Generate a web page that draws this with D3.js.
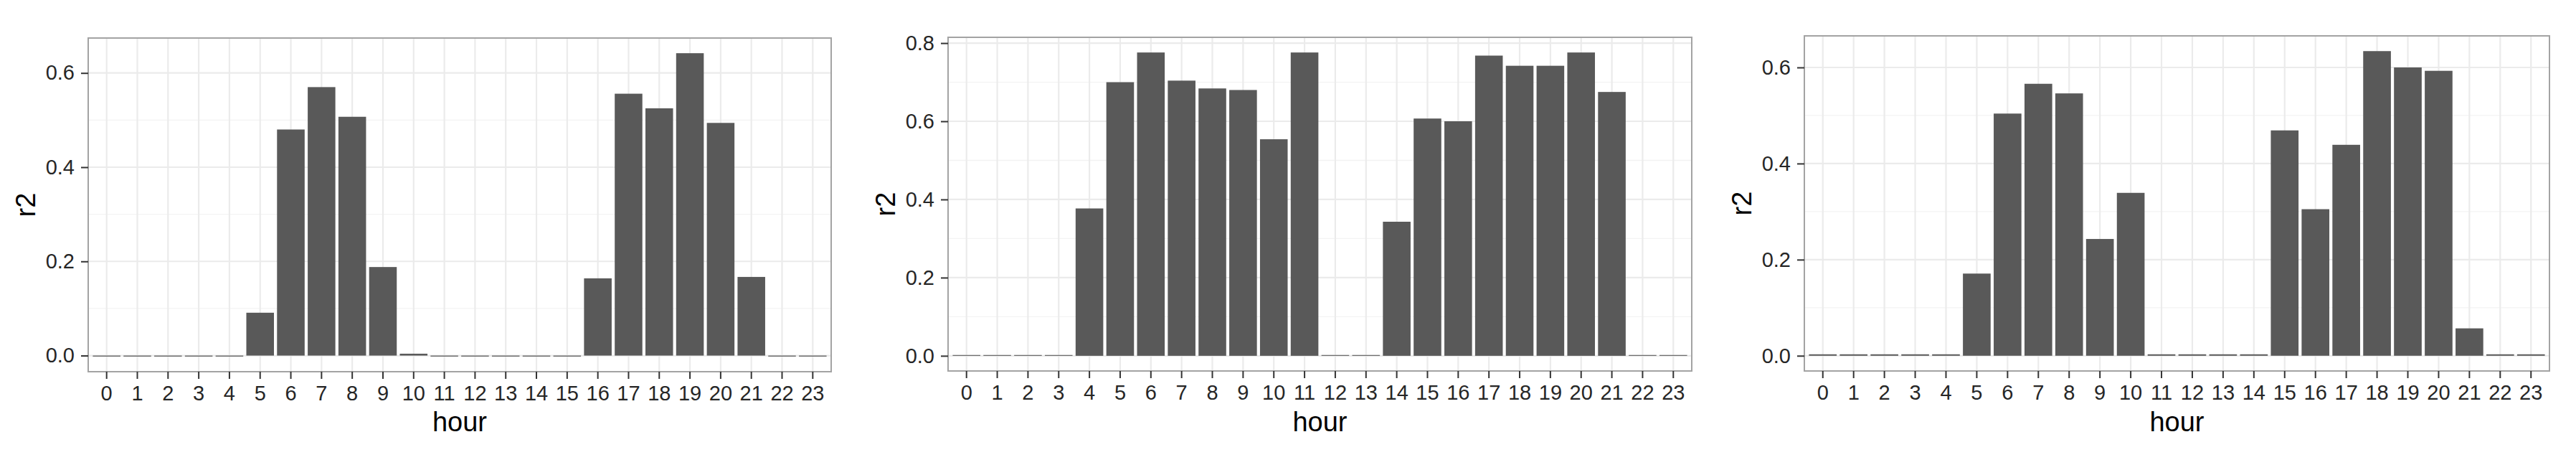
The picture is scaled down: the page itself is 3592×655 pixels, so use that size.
<!DOCTYPE html>
<html>
<head>
<meta charset="utf-8">
<style>
  body { margin: 0; background: #fff; }
  svg { display: block; }
  text { font-family: "Liberation Sans", Arial, Helvetica, sans-serif; }
</style>
</head>
<body>
<svg width="3592" height="655"></svg>
<script src="https://d3js.org/d3.v7.min.js"></script>
<script>

// x categories: hour of the day
var hours = ["0", "1", "2", "3", "4", "5", "6", "7", "8", "9", "10", "11",
             "12", "13", "14", "15", "16", "17", "18", "19", "20", "21", "22", "23"];

// r2 per hour, one array per panel
var r2Left = [-0.002, -0.002, -0.002, -0.002, -0.002, 0.091, 0.480, 0.570, 0.507, 0.188, 0.004, -0.002,
              -0.002, -0.002, -0.002, -0.002, 0.164, 0.556, 0.525, 0.642, 0.494, 0.167, -0.002, -0.002];

var r2Middle = [0.002, 0.002, 0.002, 0.002, 0.377, 0.700, 0.776, 0.704, 0.684, 0.680, 0.554, 0.776,
                0.002, 0.002, 0.343, 0.607, 0.600, 0.768, 0.742, 0.742, 0.776, 0.675, 0.002, 0.002];

var r2Right = [0.003, 0.003, 0.003, 0.003, 0.003, 0.171, 0.504, 0.566, 0.546, 0.243, 0.339, 0.003,
               0.003, 0.003, 0.003, 0.469, 0.305, 0.439, 0.634, 0.600, 0.593, 0.057, 0.003, 0.003];

// y tick labels of each panel
var yTicksLeft = [0, 0.2, 0.4, 0.6];
var yTicksMiddle = [0, 0.2, 0.4, 0.6, 0.8];
var yTicksRight = [0, 0.2, 0.4, 0.6];

var svg = d3.select("svg");

// where each panel box sits on the page
var panels = [
    {values: r2Left,   ticks: yTicksLeft,   left: 123,  right: 1159, top: 53, bottom: 518},
    {values: r2Middle, ticks: yTicksMiddle, left: 1322, right: 2359, top: 52, bottom: 517},
    {values: r2Right,  ticks: yTicksRight,  left: 2516, right: 3555, top: 50, bottom: 517}
];

panels.forEach(drawPanel);

function drawPanel(p) {
    // ggplot style discrete scale: 0.6 of a step of space at each end, bars 0.9 wide
    var x = d3.scaleBand()
        .domain(hours)
        .range([p.left, p.right])
        .paddingInner(0.1)
        .paddingOuter(0.15);

    // ggplot style continuous expansion of 5% on each side
    var lo = Math.min(0, d3.min(p.values)),
        hi = d3.max(p.values),
        pad = (hi - lo) * 0.05;
    var y = d3.scaleLinear()
        .domain([lo - pad, hi + pad])
        .range([p.bottom, p.top]);

    var g = svg.append("g");

    // minor grid lines half way between the major ones
    var step = p.ticks[1] - p.ticks[0];
    var minor = p.ticks.map(function(t) { return t + step / 2; })
        .filter(function(v) { return v >= y.domain()[0] && v <= y.domain()[1]; });

    g.selectAll(".minor")
        .data(minor)
      .enter().append("line")
        .attr("x1", p.left).attr("x2", p.right)
        .attr("y1", function(d) { return y(d); })
        .attr("y2", function(d) { return y(d); })
        .attr("stroke", "#f3f3f3")
        .attr("stroke-width", 1.3);

    g.selectAll(".hgrid")
        .data(p.ticks)
      .enter().append("line")
        .attr("x1", p.left).attr("x2", p.right)
        .attr("y1", function(d) { return y(d); })
        .attr("y2", function(d) { return y(d); })
        .attr("stroke", "#ebebeb")
        .attr("stroke-width", 2.2);

    g.selectAll(".vgrid")
        .data(hours)
      .enter().append("line")
        .attr("x1", function(d) { return x(d) + x.bandwidth() / 2; })
        .attr("x2", function(d) { return x(d) + x.bandwidth() / 2; })
        .attr("y1", p.top).attr("y2", p.bottom)
        .attr("stroke", "#ebebeb")
        .attr("stroke-width", 2.2);

    // bars (near-zero ones end up as thin grey strokes, like the original)
    g.selectAll(".bar")
        .data(p.values)
      .enter().append("rect")
        .attr("x", function(d, i) { return x(hours[i]); })
        .attr("width", x.bandwidth())
        .attr("y", function(d) { return y(Math.max(0, d)); })
        .attr("height", function(d) { return Math.abs(y(d) - y(0)); })
        .attr("fill", "#595959");

    // panel border
    g.append("rect")
        .attr("x", p.left).attr("y", p.top)
        .attr("width", p.right - p.left)
        .attr("height", p.bottom - p.top)
        .attr("fill", "none")
        .attr("stroke", "#a3a3a3")
        .attr("stroke-width", 2);

    // y axis
    var ya = g.append("g")
        .attr("transform", "translate(" + p.left + ",0)")
        .call(d3.axisLeft(y).tickValues(p.ticks).tickFormat(d3.format(".1f")).tickSize(10).tickPadding(9));
    ya.select(".domain").remove();
    ya.selectAll("line").attr("stroke", "#333").attr("stroke-width", 2);
    ya.selectAll("text").attr("font-size", 29).attr("fill", "#262626")
        .attr("font-family", "Liberation Sans, Arial, sans-serif");

    // x axis
    var xa = g.append("g")
        .attr("transform", "translate(0," + p.bottom + ")")
        .call(d3.axisBottom(x).tickSize(10).tickPadding(9));
    xa.select(".domain").remove();
    xa.selectAll("line").attr("stroke", "#333").attr("stroke-width", 2);
    xa.selectAll("text").attr("font-size", 29).attr("fill", "#262626")
        .attr("font-family", "Liberation Sans, Arial, sans-serif");

    // axis titles
    g.append("text")
        .attr("x", (p.left + p.right) / 2)
        .attr("y", 601)
        .attr("text-anchor", "middle")
        .attr("font-size", 38)
        .attr("fill", "#000")
        .text("hour");

    g.append("text")
        .attr("transform", "translate(" + (p.left - 74) + "," + ((p.top + p.bottom) / 2) + ") rotate(-90)")
        .attr("text-anchor", "middle")
        .attr("font-size", 38)
        .attr("fill", "#000")
        .text("r2");
}
</script>
</body>
</html>
